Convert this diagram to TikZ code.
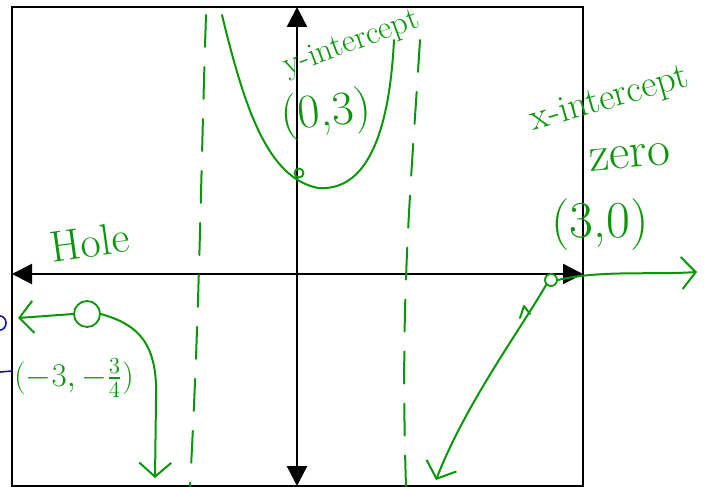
\documentclass[tikz,border=0pt]{standalone}
\usepackage{amsmath}
\usepackage{xcolor}
\usepackage{tikz}
\usetikzlibrary{arrows.meta,positioning}
\definecolor{pen}{RGB}{10,150,10}
\definecolor{bluepen}{RGB}{20,20,160}

\begin{document}
\begin{tikzpicture}[
    x=1bp, y=-1bp,
    axis/.style={line width=2.4bp, {Triangle[length=20bp,width=20bp]}-{Triangle[length=20bp,width=20bp]}},
    asym/.style={draw=pen, line width=2bp, line cap=round, dash pattern=on 32bp off 20bp},
    stroke/.style={draw=pen, line width=2bp, line cap=round, line join=round},
    barb/.style={-{Straight Barb[length=14bp,width=32bp,line width=2bp]}},
    note/.style={text=pen, inner sep=1pt, font=\fontsize{#1}{#1}\selectfont},
    note/.default=32,
    dot/.style={circle, draw=pen, line width=1.8bp, inner sep=0pt}
]
\useasboundingbox (0,0) rectangle (712,487);
% frame and axes
\draw[line width=1.4bp] (12,7) rectangle (583,486);
\coordinate (W) at (12,274);
\coordinate (E) at (583,274);
\coordinate (N) at (297,7);
\coordinate (S) at (297,486);
\draw[axis] (W) -- (E);
\draw[axis] (S) -- (N);
% asymptotes
\draw[asym] (206,15) .. controls (200,200) and (200,300) .. (190,486);
\draw[asym] (420,40) .. controls (410,200) and (400,300) .. (406,486);
% middle branch
\node[dot, minimum size=9bp] (ypt) at (299,173) {};
\draw[stroke] (222,15) .. controls (245,110) and (268,178) .. (318,188)
    .. controls (372,192) and (390,120) .. (394,40);
% left branch with hole
\node[dot, minimum width=26bp, minimum height=24bp] (hole) at (87,314) {};
\coordinate (holeend) at (18,318);
\draw[stroke, barb] (hole.west) -- (holeend);
\coordinate (leftend) at (155,478);
\draw[stroke, barb] (hole.east) .. controls (140,325) and (158,345) .. (156,400) -- (leftend);
% right branch
\node[dot, minimum size=12bp] (xpt) at (551,280) {};
\coordinate (rightend) at (436,480);
\coordinate (farend) at (697,272);
\draw[stroke, barb] (xpt.south west) .. controls (520,330) and (465,405) .. (rightend);
\draw[stroke] (520,318) -- (524,306) -- (530,314);
\draw[stroke, barb] (xpt.east) .. controls (600,270) and (650,275) .. (farend);
% labels
\node[note=44, rotate=8] (holelbl) at (90,242) {Hole};
\node[note=20, scale=1.6, transform shape] (holecoord) at (74,378) {$(-3,-\tfrac{3}{4})$};
\node[note=33, rotate=20] (yint) at (352,44) {y-intercept};
\node[note=48, rotate=6] (ycoord) at (326,114) {(0,3)};
\node[note=38, rotate=16] (xint) at (610,100) {x-intercept};
\node[note=50, rotate=5] (zero) at (630,157) {zero};
\node[note=52] (xcoord) at (600,225) {(3,0)};
% cut-off marks at the edge
\draw[bluepen, line width=1.6bp] (0,316) arc (90:-90:6bp and 7bp);
\draw[bluepen, line width=1.6bp] (0,372) -- (12,371);
\end{tikzpicture}
\end{document}
